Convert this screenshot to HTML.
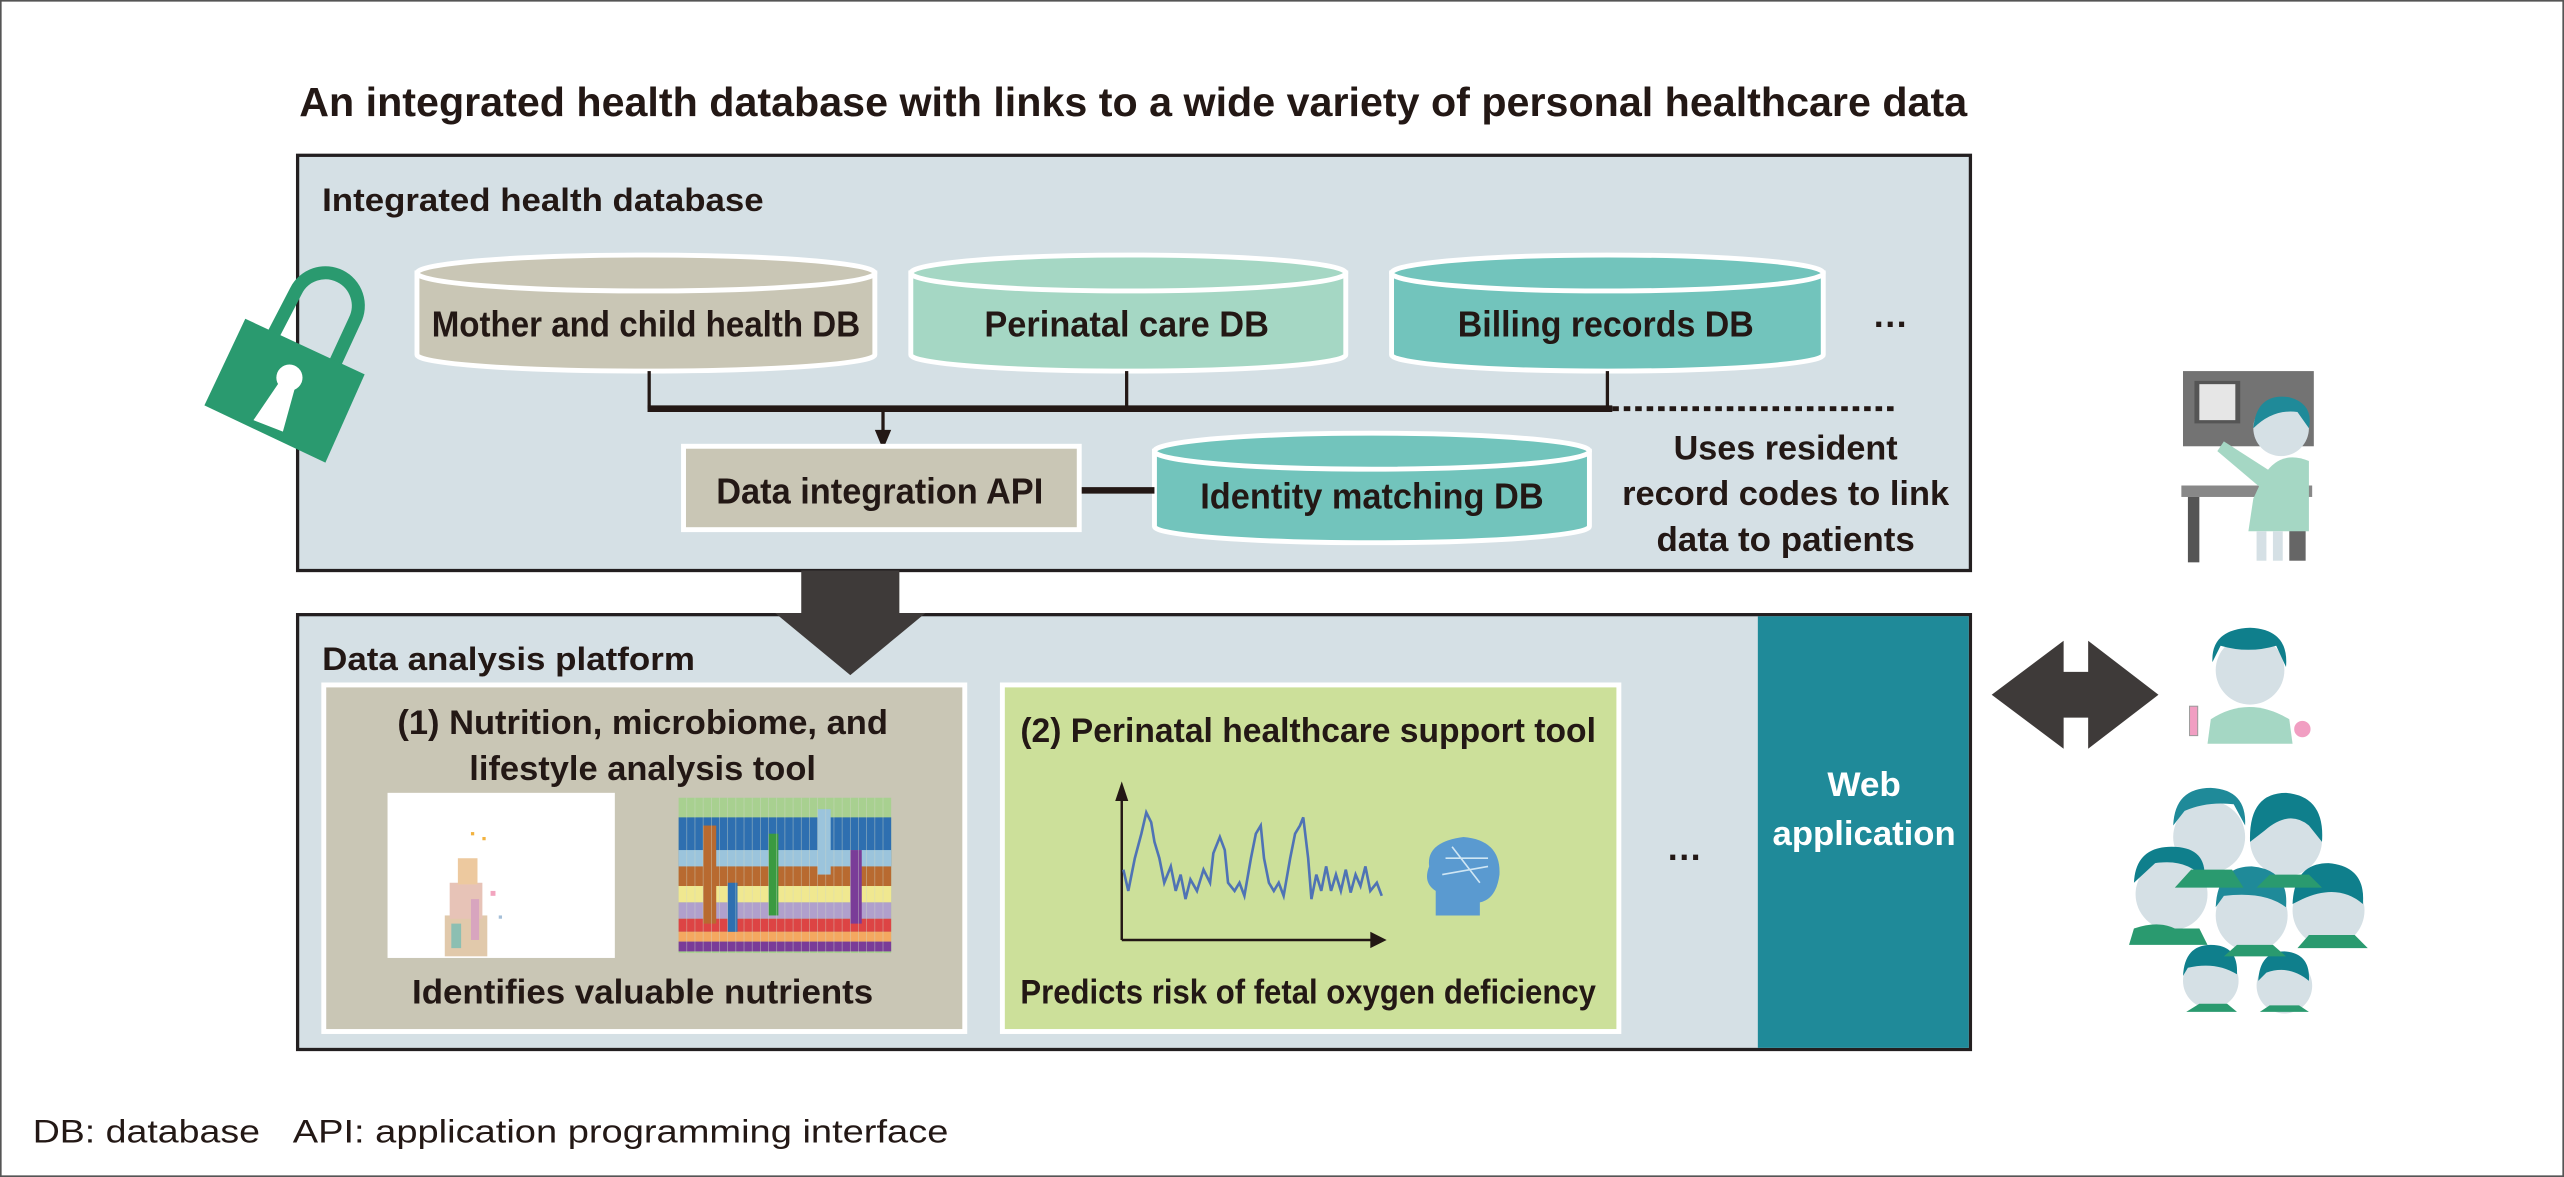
<!DOCTYPE html>
<html><head><meta charset="utf-8"><style>
html,body{margin:0;padding:0;background:#fff;}
svg{display:block;}
text{font-family:"Liberation Sans Narrow","Liberation Sans",sans-serif;font-weight:bold;fill:#231815;}
</style></head><body>
<svg width="2564" height="1177" viewBox="0 0 1568 720" preserveAspectRatio="none" xmlns="http://www.w3.org/2000/svg">
<rect x="0.5" y="0.5" width="1567" height="719" fill="#fff" stroke="#555" stroke-width="1"/>
<text x="183" y="71" font-size="25" textLength="1020" lengthAdjust="spacingAndGlyphs">An integrated health database with links to a wide variety of personal healthcare data</text>

<rect x="182" y="95" width="1023" height="254" fill="#d5e0e5" stroke="#231f20" stroke-width="2"/>
<text x="197" y="129" font-size="20" textLength="270" lengthAdjust="spacingAndGlyphs">Integrated health database</text>

<g stroke="#fff" stroke-width="3">
<path d="M255,167 L255,217 A140,10 0 0 0 535,217 L535,167 Z" fill="#c9c6b5"/>
<ellipse cx="395" cy="167" rx="140" ry="11" fill="#c9c6b5"/>
<path d="M557,167 L557,217 A133,10 0 0 0 823,217 L823,167 Z" fill="#a5d7c4"/>
<ellipse cx="690" cy="167" rx="133" ry="11" fill="#a5d7c4"/>
<path d="M851,167 L851,217 A132,10 0 0 0 1115,217 L1115,167 Z" fill="#72c4bc"/>
<ellipse cx="983" cy="167" rx="132" ry="11" fill="#72c4bc"/>
<path d="M706,276 L706,322 A133,10 0 0 0 972,322 L972,276 Z" fill="#72c4bc"/>
<ellipse cx="839" cy="276" rx="133" ry="11" fill="#72c4bc"/>
</g>
<text x="395" y="206" font-size="22" text-anchor="middle" textLength="262" lengthAdjust="spacingAndGlyphs">Mother and child health DB</text>
<text x="689" y="206" font-size="22" text-anchor="middle" textLength="174" lengthAdjust="spacingAndGlyphs">Perinatal care DB</text>
<text x="982" y="206" font-size="22" text-anchor="middle" textLength="181" lengthAdjust="spacingAndGlyphs">Billing records DB</text>
<text x="1156" y="200" font-size="22" text-anchor="middle">…</text>

<g stroke="#231815" fill="none">
<line x1="397" y1="227" x2="397" y2="250" stroke-width="2"/>
<line x1="689" y1="227" x2="689" y2="250" stroke-width="2"/>
<line x1="983" y1="227" x2="983" y2="250" stroke-width="2"/>
<line x1="396" y1="250" x2="986" y2="250" stroke-width="4"/>
<line x1="986" y1="250" x2="1160" y2="250" stroke-width="3" stroke-dasharray="4,3"/>
<line x1="540" y1="250" x2="540" y2="265" stroke-width="2"/>
<line x1="660" y1="300" x2="706" y2="300" stroke-width="4"/>
</g>
<polygon points="535,263 545,263 540,275" fill="#231815"/>

<rect x="418" y="273" width="242" height="51" fill="#c9c6b5" stroke="#fff" stroke-width="3"/>
<text x="538" y="308" font-size="22" text-anchor="middle" textLength="200" lengthAdjust="spacingAndGlyphs">Data integration API</text>
<text x="839" y="311" font-size="22" text-anchor="middle" textLength="210" lengthAdjust="spacingAndGlyphs">Identity matching DB</text>
<text x="1092" y="281" font-size="21" text-anchor="middle" textLength="137" lengthAdjust="spacingAndGlyphs">Uses resident</text>
<text x="1092" y="309" font-size="21" text-anchor="middle" textLength="200" lengthAdjust="spacingAndGlyphs">record codes to link</text>
<text x="1092" y="337" font-size="21" text-anchor="middle" textLength="158" lengthAdjust="spacingAndGlyphs">data to patients</text>

<path d="M167,205 L181,178 A20,20 0 0 1 217,196 L205,222" fill="none" stroke="#2a9a6f" stroke-width="8"/>
<polygon points="150,195 223,229 199,283 125,248" fill="#2a9a6f"/>
<circle cx="177" cy="231" r="8" fill="#fff"/>
<polygon points="172,232 181,235 173,264 155,257" fill="#fff"/>

<rect x="182" y="376" width="1023" height="266" fill="#d5e0e5" stroke="#231f20" stroke-width="2"/>
<rect x="1075" y="377" width="129" height="264" fill="#1f8a99"/>
<text x="1140" y="487" font-size="21" text-anchor="middle" style="fill:#fff" textLength="45" lengthAdjust="spacingAndGlyphs">Web</text>
<text x="1140" y="517" font-size="21" text-anchor="middle" style="fill:#fff" textLength="112" lengthAdjust="spacingAndGlyphs">application</text>

<rect x="490" y="349" width="60" height="28" fill="#3e3a39"/>
<polygon points="474,375 566,375 520,413" fill="#3e3a39"/>

<text x="197" y="410" font-size="20" textLength="228" lengthAdjust="spacingAndGlyphs">Data analysis platform</text>

<rect x="198" y="419" width="392" height="212" fill="#c9c6b5" stroke="#fff" stroke-width="3"/>
<text x="393" y="449" font-size="21" text-anchor="middle" textLength="300" lengthAdjust="spacingAndGlyphs">(1) Nutrition, microbiome, and</text>
<text x="393" y="477" font-size="21" text-anchor="middle" textLength="212" lengthAdjust="spacingAndGlyphs">lifestyle analysis tool</text>
<text x="393" y="614" font-size="21" text-anchor="middle" textLength="282" lengthAdjust="spacingAndGlyphs">Identifies valuable nutrients</text>
<rect x="237" y="485" width="139" height="101" fill="#fff"/>
<g opacity="0.75">
<rect x="272" y="560" width="26" height="25" fill="#d8b890"/>
<rect x="275" y="540" width="20" height="22" fill="#e0b0a0"/>
<rect x="280" y="525" width="12" height="16" fill="#e8b880"/>
<rect x="276" y="565" width="6" height="15" fill="#6a9"/><rect x="288" y="550" width="5" height="25" fill="#c8a"/>
<rect x="300" y="545" width="3" height="3" fill="#e8a"/><rect x="305" y="560" width="2" height="2" fill="#8ac"/>
<rect x="288" y="509" width="2" height="2" fill="#e90"/><rect x="295" y="512" width="2" height="2" fill="#e90"/>
</g>
<g>
<rect x="415" y="488" width="130" height="95" fill="#a8d090"/>
<rect x="415" y="500" width="130" height="30" fill="#2e6fb0"/>
<rect x="415" y="520" width="130" height="12" fill="#9bc4dc"/>
<rect x="415" y="530" width="130" height="12" fill="#b86a30"/>
<rect x="415" y="542" width="130" height="10" fill="#f0e890"/>
<rect x="415" y="552" width="130" height="10" fill="#b0a0cc"/>
<rect x="415" y="562" width="130" height="8" fill="#d44"/>
<rect x="415" y="570" width="130" height="6" fill="#f4a860"/>
<rect x="415" y="576" width="130" height="6" fill="#7a3c98"/>
<rect x="430" y="505" width="8" height="60" fill="#b86a30"/>
<rect x="470" y="510" width="6" height="50" fill="#3a9a40"/>
<rect x="500" y="495" width="8" height="40" fill="#9bc4dc"/>
<rect x="520" y="520" width="7" height="45" fill="#7a3c98"/>
<rect x="445" y="540" width="6" height="30" fill="#2e6fb0"/>
</g>
<g stroke="#d0d8c8" stroke-width="0.4" opacity="0.6">
<line x1="420" y1="488" x2="420" y2="583"/><line x1="425" y1="488" x2="425" y2="583"/><line x1="430" y1="488" x2="430" y2="583"/><line x1="435" y1="488" x2="435" y2="583"/><line x1="440" y1="488" x2="440" y2="583"/><line x1="445" y1="488" x2="445" y2="583"/><line x1="450" y1="488" x2="450" y2="583"/><line x1="455" y1="488" x2="455" y2="583"/><line x1="460" y1="488" x2="460" y2="583"/><line x1="465" y1="488" x2="465" y2="583"/><line x1="470" y1="488" x2="470" y2="583"/><line x1="475" y1="488" x2="475" y2="583"/><line x1="480" y1="488" x2="480" y2="583"/><line x1="485" y1="488" x2="485" y2="583"/><line x1="490" y1="488" x2="490" y2="583"/><line x1="495" y1="488" x2="495" y2="583"/><line x1="500" y1="488" x2="500" y2="583"/><line x1="505" y1="488" x2="505" y2="583"/><line x1="510" y1="488" x2="510" y2="583"/><line x1="515" y1="488" x2="515" y2="583"/><line x1="520" y1="488" x2="520" y2="583"/><line x1="525" y1="488" x2="525" y2="583"/><line x1="530" y1="488" x2="530" y2="583"/><line x1="535" y1="488" x2="535" y2="583"/><line x1="540" y1="488" x2="540" y2="583"/>
</g>

<rect x="613" y="419" width="377" height="212" fill="#cce09a" stroke="#fff" stroke-width="3"/>
<text x="800" y="454" font-size="21" text-anchor="middle" textLength="352" lengthAdjust="spacingAndGlyphs">(2) Perinatal healthcare support tool</text>
<text x="800" y="614" font-size="21" text-anchor="middle" textLength="352" lengthAdjust="spacingAndGlyphs">Predicts risk of fetal oxygen deficiency</text>
<g stroke="#231815" stroke-width="1.5" fill="none">
<line x1="686" y1="486" x2="686" y2="575"/>
<line x1="686" y1="575" x2="840" y2="575"/>
</g>
<polygon points="682,490 690,490 686,478" fill="#231815"/>
<polygon points="838,570 838,580 848,575" fill="#231815"/>
<polyline fill="none" stroke="#4f73b5" stroke-width="1.6" points="687,532 690,545 694,525 698,510 701,497 704,503 706,515 709,525 712,540 716,530 719,545 722,535 725,550 728,538 732,545 736,532 740,540 742,522 746,512 749,520 751,540 755,545 758,540 761,548 765,525 768,510 771,505 773,525 776,540 779,545 782,540 785,548 789,525 792,510 795,505 797,500 800,525 802,550 805,535 808,545 811,530 814,545 817,535 820,545 823,532 826,546 829,535 832,542 835,530 838,545 842,540 845,548"/>
<path d="M878,560 L878,545 Q870,540 874,530 Q872,515 895,512 Q918,514 917,535 Q915,550 905,552 L905,560 Z" fill="#5a9ad0"/>
<path d="M884,525 L910,525 M888,518 L905,540 M882,535 L910,530" stroke="#cfe6f4" stroke-width="1" fill="none"/>
<text x="1030" y="526" font-size="22" text-anchor="middle">…</text>

<polygon points="1218,425 1262,392 1262,411 1277,411 1277,392 1320,425 1277,458 1277,439 1262,439 1262,458" fill="#3e3a39"/>

<rect x="1335" y="227" width="80" height="46" fill="#737373"/>
<rect x="1342" y="233" width="28" height="26" fill="#555"/>
<rect x="1345" y="235" width="22" height="22" fill="#e6e6e6"/>
<rect x="1334" y="297" width="80" height="7" fill="#888"/>
<rect x="1338" y="304" width="7" height="40" fill="#555"/>
<rect x="1400" y="285" width="10" height="58" fill="#666"/>
<circle cx="1395" cy="262" r="17" fill="#d5e0e5"/>
<path d="M1378,262 Q1380,240 1400,243 Q1415,247 1412,262 L1405,252 Q1390,250 1378,262 Z" fill="#1f8a99"/>
<path d="M1385,290 Q1395,275 1412,282 L1412,325 L1375,325 L1378,305 Z" fill="#a5d7c4"/>
<path d="M1388,288 L1360,270 L1356,276 L1382,298 Z" fill="#a5d7c4"/>
<rect x="1380" y="325" width="6" height="18" fill="#d5e0e5"/><rect x="1390" y="325" width="6" height="18" fill="#d5e0e5"/>

<circle cx="1376" cy="410" r="21" fill="#d5e0e5"/>
<path d="M1353,405 Q1352,385 1376,384 Q1400,385 1398,408 L1392,395 Q1375,400 1358,395 Z" fill="#0f7f8c"/>
<path d="M1350,455 L1352,440 Q1375,425 1400,440 L1402,455 Z" fill="#a5d7c4"/>
<rect x="1339" y="432" width="5" height="18" fill="#f19ec2" stroke="#999" stroke-width="0.6"/>
<circle cx="1408" cy="446" r="5" fill="#f19ec2"/>

<g fill="#d5e0e5">
<circle cx="1351" cy="512" r="22"/><circle cx="1398" cy="514" r="22"/>
<circle cx="1328" cy="547" r="22"/><circle cx="1377" cy="560" r="22"/><circle cx="1424" cy="557" r="22"/>
<circle cx="1352" cy="600" r="17"/><circle cx="1397" cy="603" r="17"/>
</g>
<g fill="#0f7f8c">
<path d="M1329,505 Q1330,482 1352,482 Q1374,483 1373,505 L1366,492 Q1350,490 1336,496 Z" fill="#1f8a99"/>
<path d="M1376,515 Q1375,485 1398,485 Q1422,487 1420,515 L1412,505 Q1400,495 1385,508 Z"/>
<path d="M1305,540 Q1306,518 1328,518 Q1350,518 1348,538 Q1338,525 1318,528 Z"/>
<path d="M1355,555 Q1356,530 1377,530 Q1400,532 1398,555 Q1385,545 1360,548 Z" fill="#1f8a99"/>
<path d="M1402,553 Q1403,528 1424,528 Q1447,530 1445,553 Q1430,540 1408,550 Z"/>
<path d="M1335,597 Q1336,578 1352,578 Q1369,578 1368,596 Q1355,588 1338,592 Z"/>
<path d="M1381,600 Q1382,582 1397,582 Q1413,583 1412,600 Q1400,590 1386,595 Z"/>
</g>
<g fill="#2a9a6f">
<path d="M1302,578 L1305,568 Q1320,563 1330,568 L1345,568 L1350,578 Z"/>
<path d="M1330,543 L1340,532 L1365,532 L1372,543 Z"/>
<path d="M1380,543 L1388,535 L1412,535 L1420,543 Z"/>
<path d="M1360,585 L1368,578 L1390,578 L1398,585 Z"/>
<path d="M1405,580 L1412,572 L1440,572 L1448,580 Z"/>
<path d="M1337,619 L1345,614 L1362,614 L1368,619 Z"/>
<path d="M1382,619 L1388,615 L1406,615 L1412,619 Z"/>
</g>

<text x="20" y="699" font-size="20" style="font-weight:normal" textLength="139" lengthAdjust="spacingAndGlyphs">DB: database</text>
<text x="179" y="699" font-size="20" style="font-weight:normal" textLength="401" lengthAdjust="spacingAndGlyphs">API: application programming interface</text>
</svg>
</body></html>
